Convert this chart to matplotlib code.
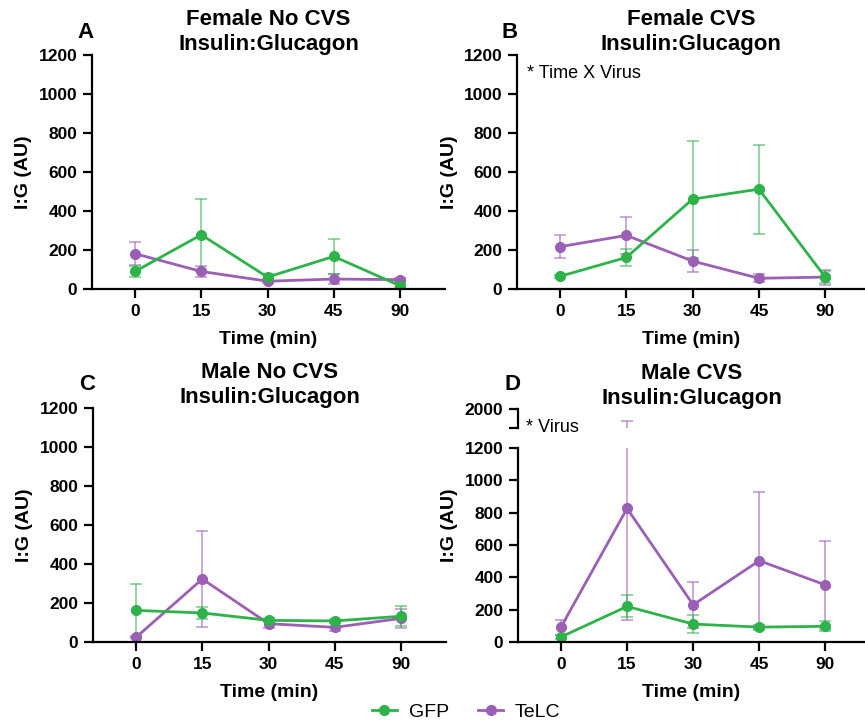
import matplotlib
matplotlib.use("Agg")
import matplotlib.pyplot as plt
from matplotlib.lines import Line2D

plt.rcParams['font.family'] = ['Liberation Sans', 'DejaVu Sans']

# ---------------------------------------------------------------- data
time_labels = ['0', '15', '30', '45', '90']

a_gfp = [90, 278, 61, 167, 17]
a_gfp_err = [30, 185, 15, 89, 12]
a_telc = [181, 90, 40, 51, 48]
a_telc_err = [60, 28, 10, 25, 8]

b_gfp = [65, 162, 461, 512, 61]
b_gfp_err = [8, 44, 300, 229, 30]
b_telc = [217, 275, 143, 55, 61]
b_telc_err = [60, 95, 55, 20, 38]

c_gfp = [162, 149, 111, 108, 132]
c_gfp_err = [135, 29, 10, 8, 51]
c_telc = [24, 323, 94, 75, 121]
c_telc_err = [5, 245, 20, 20, 50]

d_gfp = [31, 220, 111, 92, 97]
d_gfp_err = [15, 68, 53, 15, 30]
d_telc = [92, 826, 230, 503, 353]
d_telc_err = [46, 688, 142, 424, 270]

GREEN = '#2DB34A'
PURPLE = '#9B5FB5'

W, H = 865, 726
fig = plt.figure(figsize=(W / 100, H / 100), dpi=100)


def box(x0, y0, x1, y1):
    # pixel box (top-left origin) -> figure fraction rect
    return [x0 / W, 1 - y1 / H, (x1 - x0) / W, (y1 - y0) / H]


def style(ax):
    for s in ['top', 'right']:
        ax.spines[s].set_visible(False)
    for s in ['left', 'bottom']:
        ax.spines[s].set_linewidth(1.6)
    ax.tick_params(width=1.6, length=6.5, labelsize=12.5, pad=4)
    for lab in ax.get_xticklabels() + ax.get_yticklabels():
        lab.set_fontweight('bold')


def draw(ax, gfp, gfp_err, telc, telc_err):
    x = range(len(time_labels))
    for y, e, c in [(telc, telc_err, PURPLE), (gfp, gfp_err, GREEN)]:
        ax.errorbar(x, y, yerr=e, color=c, lw=2, marker='o', ms=7,
                    elinewidth=1.1, capsize=4, capthick=1.1,
                    ecolor=c + 'AA', clip_on=True)


def panel(rect, gfp, gfp_err, telc, telc_err, title, xlim_r):
    ax = fig.add_axes(rect)
    draw(ax, gfp, gfp_err, telc, telc_err)
    ax.set_ylim(0, 1200)
    ax.set_xlim(-0.65, xlim_r)
    ax.set_yticks(range(0, 1201, 200))
    ax.set_xticks(range(len(time_labels)))
    ax.set_xticklabels(time_labels)
    style(ax)
    ax.set_ylabel('I:G (AU)', fontsize=14, fontweight='bold')
    ax.yaxis.set_label_coords(-0.17, 0.5)
    ax.set_xlabel('Time (min)', fontsize=14, fontweight='bold', labelpad=9)
    if title:
        ax.set_title(title, fontsize=16, fontweight='bold', pad=-4, linespacing=1.25)
    return ax


ax_a = panel(box(92, 55, 445, 289), a_gfp, a_gfp_err, a_telc, a_telc_err,
             'Female No CVS\nInsulin:Glucagon', 4.68)
ax_b = panel(box(517, 55, 865, 289), b_gfp, b_gfp_err, b_telc, b_telc_err,
             'Female CVS\nInsulin:Glucagon', 4.6)
ax_c = panel(box(93, 408, 446, 642), c_gfp, c_gfp_err, c_telc, c_telc_err,
             'Male No CVS\nInsulin:Glucagon', 4.68)
ax_d = panel(box(518, 448, 865, 642), d_gfp, d_gfp_err, d_telc, d_telc_err,
             None, 4.6)
ax_d.yaxis.set_label_coords(-0.172, 0.6)

# upper segment of the broken axis in D
ax_du = fig.add_axes(box(518, 409, 865, 428))
draw(ax_du, d_gfp, d_gfp_err, d_telc, d_telc_err)
ax_du.set_ylim(1200, 2000)
ax_du.set_xlim(-0.65, 4.6)
ax_du.set_yticks([1200, 2000])
ax_du.set_yticklabels(['', '2000'])
ax_du.set_xticks([])
style(ax_du)
ax_du.spines['bottom'].set_visible(False)
ax_du.patch.set_visible(False)
ax_du.set_title('Male CVS\nInsulin:Glucagon', fontsize=16, fontweight='bold',
                pad=-4, linespacing=1.25)

# annotations
ax_b.text(0.03, 0.92, '* Time X Virus', transform=ax_b.transAxes,
          fontsize=13, va='center', ha='left')
fig.text(526 / W, 1 - 427 / H, '* Virus', fontsize=13, va='center', ha='left')

# panel letters
for letter, (px, py) in zip('ABCD', [(86, 33), (510, 32), (87, 385), (512, 385)]):
    fig.text(px / W, 1 - py / H, letter, fontsize=16, fontweight='bold',
             ha='center', va='center')

# legend
handles = [Line2D([], [], color=GREEN, marker='o', lw=2, ms=7),
           Line2D([], [], color=PURPLE, marker='o', lw=2, ms=7)]
fig.legend(handles, ['GFP', 'TeLC'], loc='center', ncol=2, frameon=False,
           bbox_to_anchor=(466 / W, 1 - 712 / H), fontsize=14,
           handlelength=1.3, handletextpad=0.6, columnspacing=1.5)

fig.savefig('out.png', dpi=100)
